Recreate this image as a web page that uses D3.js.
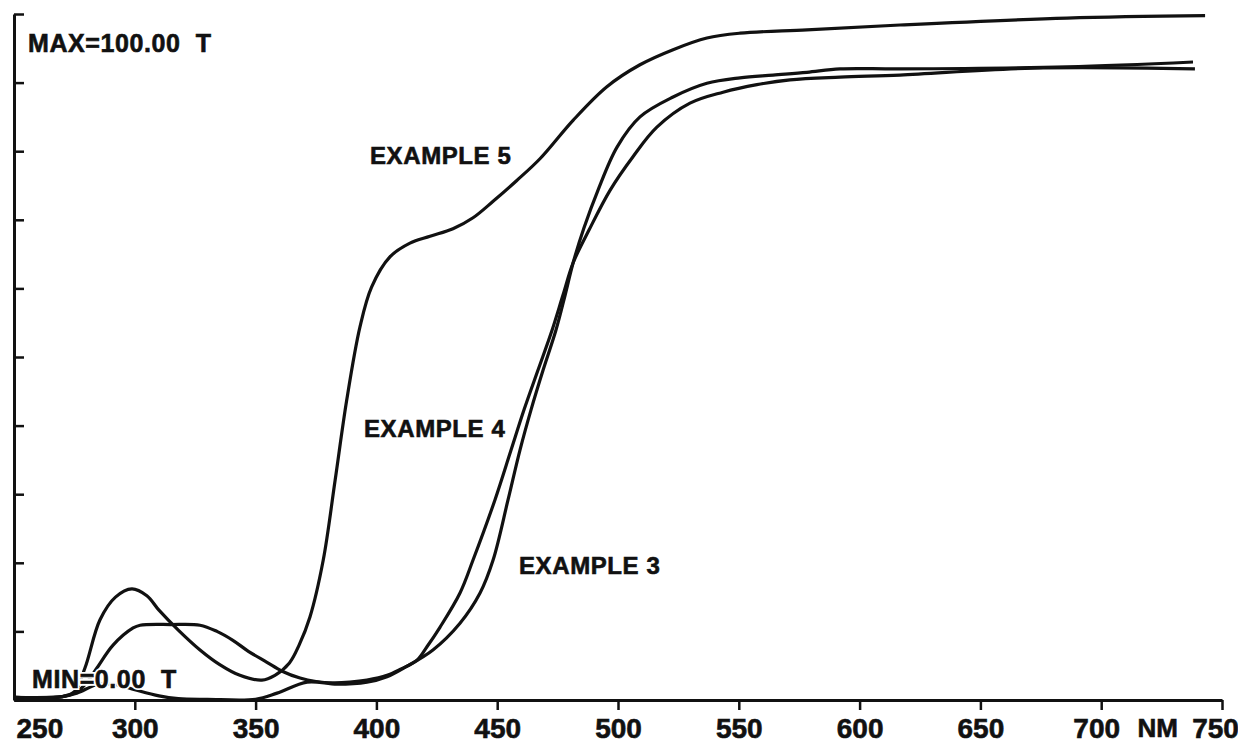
<!DOCTYPE html>
<html>
<head>
<meta charset="utf-8">
<script src="https://cdn.jsdelivr.net/npm/d3@7"></script>
<style>
  html, body { margin: 0; padding: 0; background: #fff; }
  svg { display: block; }
  text { font-family: "Liberation Sans", Arial, sans-serif; font-weight: bold; fill: #111; }
</style>
</head>
<body>
<svg id="chart" width="1238" height="747"></svg>
<script>
// ---- data (wavelength in nm, transmittance in %) ----
const ex5Nm  = [250, 270, 275, 279.4, 285.6, 292, 298.8, 305, 310, 318, 327, 335, 343.5, 352.6, 358, 364, 368, 372.5, 378, 382.9, 387.7, 393.2, 398, 405.6, 413.9, 422.2, 431.7, 440, 448.3, 458, 467.7, 481.4, 495.4, 509.1, 522.8, 536.8, 550.5, 578.2, 616.7, 685.8, 743];
const ex5T   = [0.4, 0.5, 1.2, 4.7, 11.7, 15.0, 16.2, 15.2, 13.1, 10.2, 7.3, 5.2, 3.6, 2.9, 3.6, 5.4, 8, 12.1, 20.4, 32, 43.7, 54.4, 60.2, 64.6, 66.6, 67.6, 68.7, 70.3, 72.7, 75.7, 78.9, 84.5, 89.4, 92.6, 94.8, 96.5, 97.2, 97.7, 98.4, 99.4, 99.75];

const ex4Nm  = [250, 270, 276, 280, 284.4, 291, 299.3, 302.2, 315, 327, 334, 340.6, 347, 354.7, 361, 368.4, 375, 382, 389, 396.1, 404.4, 410, 416.8, 421, 426.3, 434.6, 440, 449.1, 455.7, 461.1, 466.9, 472.7, 477.2, 481.4, 488, 496.7, 506.2, 516.1, 529.8, 543.5, 557.5, 571.2, 591.9, 616.7, 671.8, 738.8];
const ex4T   = [0.4, 0.5, 1.2, 2.5, 4.7, 8, 10.5, 10.9, 11.0, 10.9, 10.0, 8.7, 7.1, 5.5, 4.2, 3.2, 2.7, 2.5, 2.6, 2.9, 3.6, 4.5, 5.8, 7.8, 10.6, 15.6, 20.4, 29.2, 36.4, 42.3, 48.1, 53.9, 59.0, 63.7, 68.5, 74.3, 79.2, 83.5, 87, 88.6, 89.7, 90.4, 90.8, 91.1, 92.1, 92.0];

const ex3Nm  = [250, 270, 276, 285, 293, 300, 310, 318, 330, 350, 358.9, 371.3, 383.7, 396.1, 404.4, 412, 423.4, 434.6, 442.9, 448.3, 454.5, 459.4, 464, 469, 474.3, 478.1, 481.4, 485.9, 491.7, 499.6, 509.1, 522.8, 536.8, 550.5, 564.2, 578.2, 591.9, 616.7, 685.8, 738];
const ex3T   = [0.4, 0.5, 1.0, 2.3, 2.2, 1.5, 0.6, 0.2, 0.1, 0.1, 1.0, 2.6, 2.3, 2.6, 3.4, 4.8, 7.3, 11.2, 15.6, 20.4, 29.2, 36.4, 42.3, 48.1, 53.9, 59.0, 63.7, 68.8, 74.3, 80.6, 85, 87.9, 89.9, 90.7, 91.1, 91.5, 92, 92, 92.3, 93.0];

const xTickValues = [250, 300, 350, 400, 450, 500, 550, 600, 650, 700, 750];
const yTickValues = [0, 10, 20, 30, 40, 50, 60, 70, 80, 90, 100];
const seriesNames = ["EXAMPLE 5", "EXAMPLE 4", "EXAMPLE 3"];
const maxLabel = "MAX=100.00  T";
const minLabel = "MIN=0.00  T";
const unitLabel = "NM";

// ---- drawing ----
const svg = d3.select("#chart");
const x = d3.scaleLinear().domain([250, 750]).range([14, 1222]);
const y = d3.scaleLinear().domain([0, 100]).range([700, 14]);

const line = d3.line()
  .x(d => x(d[0]))
  .y(d => y(d[1]))
  .curve(d3.curveCatmullRom.alpha(0.5));

const series = [
  { name: seriesNames[0], data: d3.zip(ex5Nm, ex5T) },
  { name: seriesNames[1], data: d3.zip(ex4Nm, ex4T) },
  { name: seriesNames[2], data: d3.zip(ex3Nm, ex3T) }
];

svg.append("g").selectAll("path")
  .data(series)
  .join("path")
  .attr("d", d => line(d.data))
  .attr("fill", "none")
  .attr("stroke", "#111")
  .attr("stroke-width", 3.2)
  .attr("stroke-linejoin", "round");

// x axis
const xAxis = svg.append("g")
  .attr("transform", `translate(0,${y(0)})`)
  .call(d3.axisBottom(x).tickValues(xTickValues).tickSize(10).tickSizeOuter(0).tickPadding(8));
xAxis.select(".domain").attr("stroke", "#111").attr("stroke-width", 3);
xAxis.selectAll(".tick line").attr("stroke", "#111").attr("stroke-width", 2.5);
xAxis.selectAll(".tick").filter(d => d === 250).select("line").remove();
xAxis.selectAll(".tick text")
  .attr("font-size", 28)
  .attr("font-family", "Liberation Sans, Arial, sans-serif")
  .attr("font-weight", "bold")
  .attr("fill", "#111")
  .attr("stroke", "#111")
  .attr("stroke-width", 0.6)
  .attr("dy", "0.71em");
xAxis.selectAll(".tick").filter(d => d === 250).select("text")
  .attr("text-anchor", "start").attr("x", 2);
xAxis.selectAll(".tick").filter(d => d === 750).select("text").attr("x", -7);
xAxis.selectAll(".tick").filter(d => d === 700).select("text").attr("x", -5);

svg.append("text")
  .attr("x", (x(700) + x(750)) / 2 - 4)
  .attr("y", 737)
  .attr("text-anchor", "middle")
  .attr("font-size", 26)
  .attr("stroke", "#111")
  .attr("stroke-width", 0.6)
  .text(unitLabel);

// y axis (ticks point inward)
const yAxis = svg.append("g")
  .attr("transform", `translate(${x(250)},0)`)
  .call(d3.axisRight(y).tickValues(yTickValues).tickSize(10).tickSizeOuter(0).tickFormat(""));
yAxis.select(".domain").attr("stroke", "#111").attr("stroke-width", 3);
yAxis.selectAll(".tick line").attr("stroke", "#111").attr("stroke-width", 2.5);

// annotation labels
function label(txt, px, py, size) {
  const g = svg.append("g");
  g.append("text")
    .attr("x", px).attr("y", py)
    .attr("font-size", size)
    .attr("letter-spacing", 0.6)
    .attr("stroke", "#fff")
    .attr("stroke-width", 4)
    .style("white-space", "pre")
    .text(txt);
  g.append("text")
    .attr("x", px).attr("y", py)
    .attr("font-size", size)
    .attr("letter-spacing", 0.6)
    .attr("stroke", "#111")
    .attr("stroke-width", 0.6)
    .style("white-space", "pre")
    .text(txt);
}
label(maxLabel, 28, 52, 25);
label(minLabel, 32, 688, 25);
label(seriesNames[0], 370, 164, 24);
label(seriesNames[1], 364, 437, 24);
label(seriesNames[2], 519, 574, 24);
</script>
</body>
</html>
